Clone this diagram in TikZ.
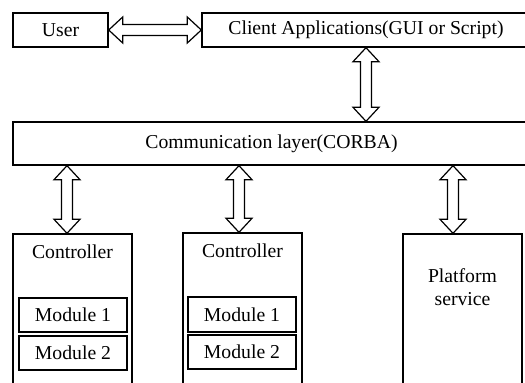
\documentclass[tikz,border=0pt]{standalone}
\usepackage{fontspec}
\setmainfont{Liberation Serif}
\usetikzlibrary{calc}
\tikzset{
  box/.style={draw, line width=1.4pt, inner sep=0pt, font=\fontsize{19.7}{23}\selectfont},
  lbl/.style={inner sep=0pt, font=\fontsize{19.7}{23}\selectfont},
  dblarrow/.style={draw, line width=1.2pt, fill=white, line join=miter,
    to path={
      -- ($(\tikztostart)!14pt!(\tikztotarget)!13pt!90:(\tikztotarget)$)
      -- ($(\tikztostart)!14pt!(\tikztotarget)!5.5pt!90:(\tikztotarget)$)
      -- ($(\tikztotarget)!14pt!(\tikztostart)!5.5pt!-90:(\tikztostart)$)
      -- ($(\tikztotarget)!14pt!(\tikztostart)!13pt!-90:(\tikztostart)$)
      -- (\tikztotarget)
      -- ($(\tikztotarget)!14pt!(\tikztostart)!13pt!90:(\tikztostart)$)
      -- ($(\tikztotarget)!14pt!(\tikztostart)!5.5pt!90:(\tikztostart)$)
      -- ($(\tikztostart)!14pt!(\tikztotarget)!5.5pt!-90:(\tikztotarget)$)
      -- ($(\tikztostart)!14pt!(\tikztotarget)!13pt!-90:(\tikztotarget)$)
      -- cycle}}
}
\begin{document}
\begin{tikzpicture}[x=1pt, y=-1pt]
\useasboundingbox (0,0) rectangle (525,383);
\clip (0,0) rectangle (525,383);
\fill[white] (0,0) rectangle (525,383);

\node[box, minimum width=95pt, minimum height=34pt] (user) at (60.5,30) {User};
\node[box, minimum width=328pt, minimum height=34pt] (client) at (366,30) {Client Applications(GUI or Script)};
\node[box, minimum width=517pt, minimum height=43pt] (comm) at (271.5,143.5) {Communication layer(CORBA)};

\node[box, minimum width=119pt, minimum height=166pt] (ctrl1) at (72.5,317) {};
\node[box, minimum width=119pt, minimum height=167pt] (ctrl2) at (242.5,316.5) {};
\node[box, minimum width=119pt, minimum height=166pt] (plat) at (462.5,317) {};

\node[lbl, anchor=base] (ctrl1lbl) at (72.5,258) {Controller};
\node[lbl, anchor=base] (ctrl2lbl) at (242.5,257) {Controller};
\node[lbl, align=center, anchor=base] (platlbl) at (462.5,305) {Platform\\service};

\node[box, minimum width=108pt, minimum height=34pt] (m11) at (73,315) {Module 1};
\node[box, minimum width=108pt, minimum height=34pt] (m12) at (73,353) {Module 2};
\node[box, minimum width=108pt, minimum height=35pt] (m21) at (242,314.5) {Module 1};
\node[box, minimum width=108pt, minimum height=34pt] (m22) at (242,352) {Module 2};

\coordinate (ax1) at (67,0);
\coordinate (ax2) at (239,0);
\coordinate (ax3) at (453,0);
\coordinate (s1) at (comm.south -| ax1);
\coordinate (e1) at (ctrl1.north -| ax1);
\coordinate (s2) at (comm.south -| ax2);
\coordinate (e2) at (ctrl2.north -| ax2);
\coordinate (s3) at (comm.south -| ax3);
\coordinate (e3) at (plat.north -| ax3);
\coordinate (cs) at (client.south);
\coordinate (cn) at (comm.north -| client.south);

\draw[dblarrow] (user.east) to (client.west);
\draw[dblarrow] (cs) to (cn);
\draw[dblarrow] (s1) to (e1);
\draw[dblarrow] (s2) to (e2);
\draw[dblarrow] (s3) to (e3);
\end{tikzpicture}
\end{document}
